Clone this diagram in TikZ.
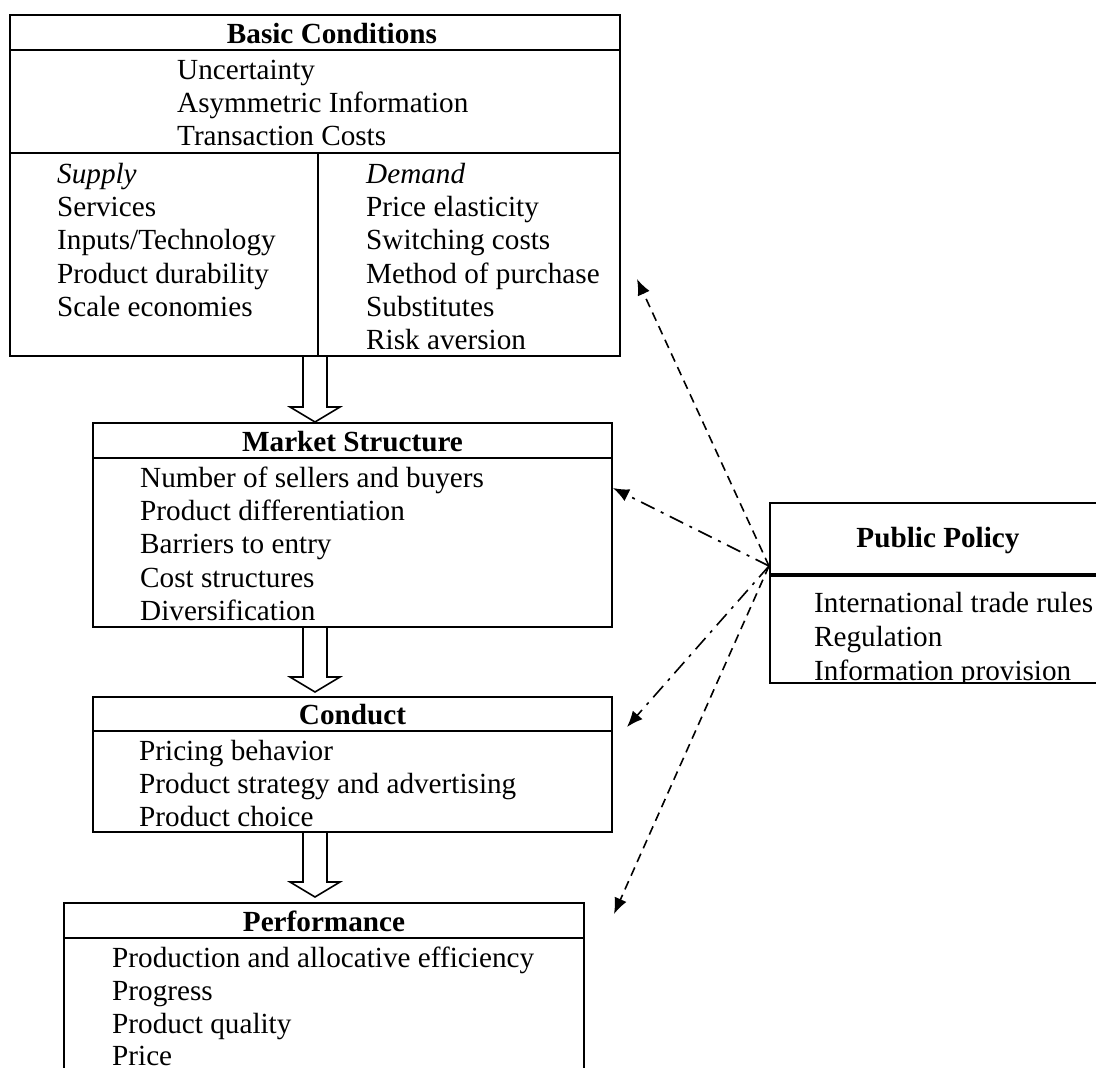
\documentclass[tikz,border=0pt]{standalone}
\usepackage{fontspec}
\setmainfont{Liberation Serif}
\usetikzlibrary{arrows.meta}
\begin{document}
\begin{tikzpicture}[x=1pt,y=-1pt,
  txt/.style={anchor=base west, inner sep=0pt, font=\fontsize{29.2}{33.5}\selectfont},
  ttl/.style={anchor=base, inner sep=0pt, font=\fontsize{29.2}{33.5}\selectfont\bfseries},
  boxed/.style={draw, line width=2pt, rectangle, inner sep=0pt, outer sep=0pt},
  divider/.style={line width=2pt},
  hollow/.style={draw, line width=1.6pt, line join=miter},
  tipstyle/.style={-{Latex[length=16pt,width=13pt]}},
  pdash/.style={tipstyle, line width=1.6pt, dash pattern=on 9pt off 6pt},
  pdashdot/.style={tipstyle, line width=1.6pt, dash pattern=on 15pt off 7pt on 3pt off 7pt},
  blockarrow/.pic={\draw[hollow] (-12,0) -- (-12,50) -- (-25,50) -- (0,65) -- (25,50) -- (12,50) -- (12,0);}
]
\useasboundingbox[fill=white] (0,0) rectangle (1096,1068);

% ---------- Basic Conditions ----------
\node[boxed, minimum width=610pt, minimum height=341pt] (basic) at (315,185.5) {};
\draw[divider] (10,50) -- (620,50);
\draw[divider] (10,153) -- (620,153);
\draw[divider] (318,153) -- (318,356);
\node[ttl] (basicT) at (332,43) {Basic Conditions};
\node[txt] (bc1) at (177,79) {Uncertainty};
\node[txt] (bc2) at (177,112) {Asymmetric Information};
\node[txt] (bc3) at (177,145) {Transaction Costs};
\node[txt] (s0) at (57,183) {\itshape Supply};
\node[txt] (s1) at (57,216) {Services};
\node[txt] (s2) at (57,249) {Inputs/Technology};
\node[txt] (s3) at (57,283) {Product durability};
\node[txt] (s4) at (57,316) {Scale economies};
\node[txt] (d0) at (366,183) {\itshape Demand};
\node[txt] (d1) at (366,216) {Price elasticity};
\node[txt] (d2) at (366,249) {Switching costs};
\node[txt] (d3) at (366,283) {Method of purchase};
\node[txt] (d4) at (366,316) {Substitutes};
\node[txt] (d5) at (366,349) {Risk aversion};

% ---------- Market Structure ----------
\node[boxed, minimum width=519pt, minimum height=204pt] (market) at (352.5,525) {};
\draw[divider] (93,458) -- (612,458);
\node[ttl] (marketT) at (352.5,451) {Market Structure};
\node[txt] (m1) at (140,487) {Number of sellers and buyers};
\node[txt] (m2) at (140,520) {Product differentiation};
\node[txt] (m3) at (140,553) {Barriers to entry};
\node[txt] (m4) at (140,587) {Cost structures};
\node[txt] (m5) at (140,620) {Diversification};

% ---------- Conduct ----------
\node[boxed, minimum width=519pt, minimum height=135pt] (conduct) at (352.5,764.5) {};
\draw[divider] (93,731) -- (612,731);
\node[ttl] (conductT) at (352.5,724) {Conduct};
\node[txt] (c1) at (139,760) {Pricing behavior};
\node[txt] (c2) at (139,793) {Product strategy and advertising};
\node[txt] (c3) at (139,826) {Product choice};

% ---------- Performance ----------
\node[boxed, minimum width=520pt, minimum height=177pt] (perf) at (324,991.5) {};
\draw[divider] (64,938) -- (584,938);
\node[ttl] (perfT) at (324,931) {Performance};
\node[txt] (p1) at (112,967) {Production and allocative efficiency};
\node[txt] (p2) at (112,1000) {Progress};
\node[txt] (p3) at (112,1033) {Product quality};
\node[txt] (p4) at (112,1065) {Price};

% ---------- Public Policy ----------
\node[boxed, minimum width=330pt, minimum height=180pt] (pp) at (935,593) {};
\draw[line width=3.2pt] (770,575) -- (1100,575);
\node[ttl] (ppT) at (938,547) {Public Policy};
\begin{scope}
  \clip (771,576) rectangle (1100,682);
  \node[txt] (pp1) at (814,612) {International trade rules};
  \node[txt] (pp2) at (814,646) {Regulation};
  \node[txt] (pp3) at (814,680) {Information provision};
\end{scope}

% ---------- block arrows ----------
\pic at (315,357) {blockarrow};
\pic at (315,627) {blockarrow};
\pic at (315,832) {blockarrow};

% ---------- policy connectors ----------
\coordinate (src) at (769,566);
\coordinate (tBasic) at (637,279);
\coordinate (tMarket) at (613,488);
\coordinate (tConduct) at (627,727);
\coordinate (tPerf) at (614,914);
\draw[pdash] (src) -- (tBasic);
\draw[pdashdot] (src) -- (tMarket);
\draw[pdashdot] (src) -- (tConduct);
\draw[pdash] (src) -- (tPerf);
\end{tikzpicture}
\end{document}
